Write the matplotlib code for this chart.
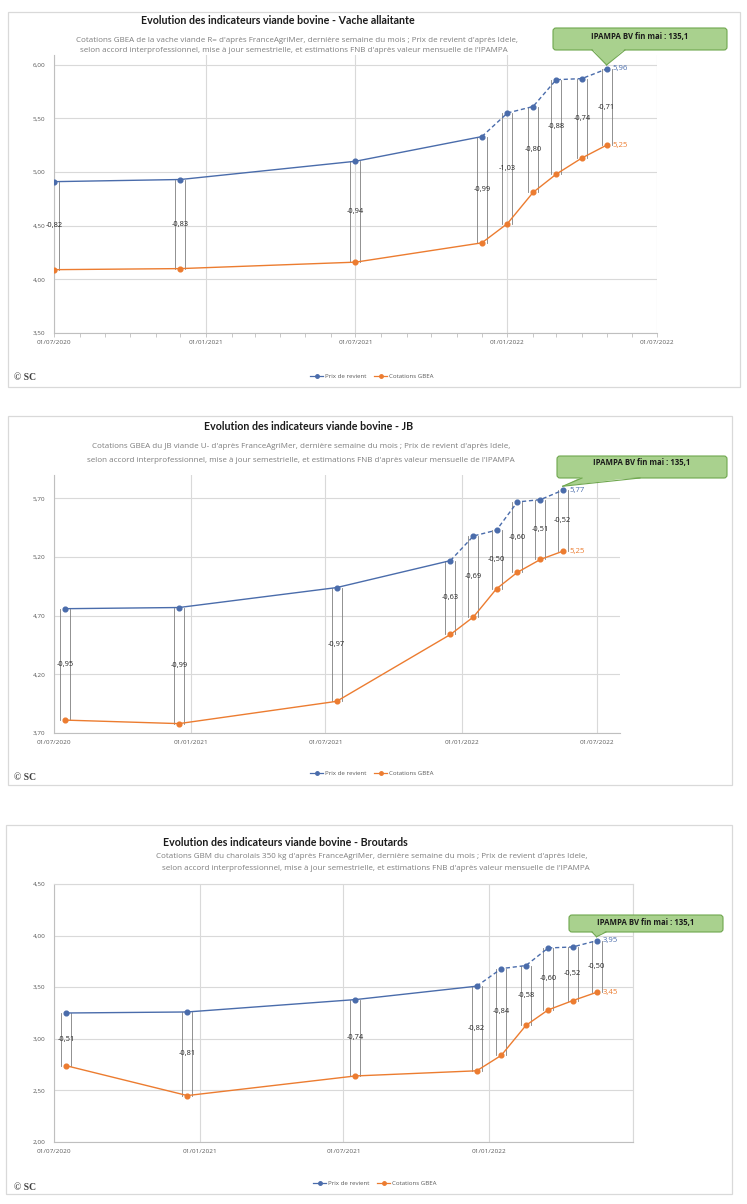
import datetime as dt
import numpy as np
import matplotlib
matplotlib.use("Agg")
import matplotlib.pyplot as plt
import matplotlib.dates as mdates
import matplotlib.transforms as mtrans
from matplotlib.patches import FancyBboxPatch, Polygon, Rectangle
from matplotlib.lines import Line2D
from matplotlib.ticker import FuncFormatter

# ---------------- data ----------------
va_dates = ["2020-07-01", "2020-12-01", "2021-07-01", "2021-12-01", "2022-01-01",
            "2022-02-01", "2022-03-01", "2022-04-01", "2022-05-01"]
va_prix = [4.91, 4.93, 5.10, 5.33, 5.55, 5.61, 5.86, 5.87, 5.96]
va_gbea = [4.09, 4.10, 4.16, 4.34, 4.52, 4.81, 4.98, 5.13, 5.25]

jb_dates = ["2020-07-16", "2020-12-16", "2021-07-16", "2021-12-16", "2022-01-16",
            "2022-02-16", "2022-03-16", "2022-04-16", "2022-05-16"]
jb_prix = [4.76, 4.77, 4.94, 5.17, 5.38, 5.43, 5.67, 5.69, 5.77]
jb_gbea = [3.81, 3.78, 3.97, 4.54, 4.69, 4.93, 5.07, 5.18, 5.25]

br_dates = ["2020-07-16", "2020-12-16", "2021-07-16", "2021-12-16", "2022-01-16",
            "2022-02-16", "2022-03-16", "2022-04-16", "2022-05-16"]
br_prix = [3.25, 3.26, 3.38, 3.51, 3.68, 3.71, 3.88, 3.89, 3.95]
br_gbea = [2.74, 2.45, 2.64, 2.69, 2.84, 3.13, 3.28, 3.37, 3.45]

titles = ["Evolution des indicateurs viande bovine - Vache allaitante",
          "Evolution des indicateurs viande bovine - JB",
          "Evolution des indicateurs viande bovine - Broutards"]
subtitle1 = ["Cotations GBEA de la vache viande R= d'après FranceAgriMer, dernière semaine du mois ; Prix de revient d'après Idele,",
             "Cotations GBEA du JB viande U- d'après FranceAgriMer, dernière semaine du mois ; Prix de revient d'après Idele,",
             "Cotations GBM du charolais 350 kg d'après FranceAgriMer, dernière semaine du mois ; Prix de revient d'après Idele,"]
subtitle2 = "selon accord interprofessionnel, mise à jour semestrielle, et estimations FNB d'après valeur mensuelle de l'IPAMPA"
callout_text = "IPAMPA BV fin mai : 135,1"
legend_labels = ["Prix de revient", "Cotations GBEA"]
copyright_text = "© SC"

xtick_dates = [["2020-07-01", "2021-01-01", "2021-07-01", "2022-01-01", "2022-07-01"],
               ["2020-07-01", "2021-01-01", "2021-07-01", "2022-01-01", "2022-07-01"],
               ["2020-07-01", "2021-01-01", "2021-07-01", "2022-01-01", "2022-07-01"]]
xtick_shown = [[True, True, True, True, True],
               [True, True, True, True, True],
               [True, True, True, True, False]]
yticks = [[3.50, 4.00, 4.50, 5.00, 5.50, 6.00],
          [3.70, 4.20, 4.70, 5.20, 5.70],
          [2.00, 2.50, 3.00, 3.50, 4.00, 4.50]]

# ---------------- layout / style ----------------
W, H, DPI = 747, 1204, 100
BLUE = "#4a6cab"
ORANGE = "#ec7c30"
GRID = "#d9d9d9"
TXT = "#595959"

plt.rcParams["font.family"] = ["Open Sans", "DejaVu Sans"]

panels = [
    dict(dates=va_dates, prix=va_prix, gbea=va_gbea,
         frame=(8, 12, 740, 387), axes=(54, 55, 657, 333),
         xlim=("2020-07-01", "2022-07-01"), ylim=(3.50, 6.09), minor=True,
         title=(278, 20), sub=(297, 40, 294, 51), legend=(372, 376), copy=(14, 378),
         box=(553, 28, 727, 50), text_y=37, ptr=(592, 625), tip_off=4),
    dict(dates=jb_dates, prix=jb_prix, gbea=jb_gbea,
         frame=(8, 416, 732, 785), axes=(54, 475, 620, 733),
         xlim=("2020-07-01", "2022-08-01"), ylim=(3.70, 5.90), minor=False,
         title=(309, 426), sub=(301, 447, 301, 460), legend=(372, 773), copy=(14, 778),
         box=(557, 456, 727, 478), text_y=463, ptr=(582, 640), tip_off=4),
    dict(dates=br_dates, prix=br_prix, gbea=br_gbea,
         frame=(6, 825, 732, 1194), axes=(54, 884, 633, 1142),
         xlim=("2020-07-01", "2022-07-01"), ylim=(2.00, 4.50), minor=False,
         title=(285, 842), sub=(372, 857, 376, 869), legend=(375, 1183), copy=(14, 1187),
         box=(569, 915, 723, 932), text_y=922, ptr=(592, 606), tip_off=4),
]


def rect(x0, y0, x1, y1):
    return [x0 / W, 1 - y1 / H, (x1 - x0) / W, (y1 - y0) / H]


def d2n(s):
    return mdates.date2num(dt.date.fromisoformat(s))


def comma(v):
    return f"{v:.2f}".replace(".", ",")


fig = plt.figure(figsize=(W / DPI, H / DPI), dpi=DPI)
fig.patch.set_facecolor("white")

bg = fig.add_axes([0, 0, 1, 1], zorder=0)
bg.set_xlim(0, W)
bg.set_ylim(H, 0)
bg.axis("off")

fg = fig.add_axes([0, 0, 1, 1], zorder=10)
fg.set_xlim(0, W)
fg.set_ylim(H, 0)
fg.axis("off")
fg.patch.set_alpha(0)

for i, p in enumerate(panels):
    fx0, fy0, fx1, fy1 = p["frame"]
    bg.add_patch(Rectangle((fx0, fy0), fx1 - fx0, fy1 - fy0, fc="white", ec=GRID, lw=0.9))

    ax = fig.add_axes(rect(*p["axes"]), zorder=5)
    ax.patch.set_alpha(0)
    x = [d2n(s) for s in p["dates"]]
    prix = np.array(p["prix"])
    gbea = np.array(p["gbea"])

    ax.set_xlim(d2n(p["xlim"][0]), d2n(p["xlim"][1]))
    ax.set_ylim(*p["ylim"])
    ax.set_yticks(yticks[i])
    ax.yaxis.set_major_formatter(FuncFormatter(lambda v, pos: comma(v)))
    tx = [d2n(s) for s in xtick_dates[i]]
    ax.set_xticks(tx)
    ax.set_xticklabels([dt.date.fromisoformat(s).strftime("%d/%m/%Y") if show else ""
                        for s, show in zip(xtick_dates[i], xtick_shown[i])])
    if p["minor"]:
        ax.xaxis.set_minor_locator(mdates.MonthLocator())
        ax.tick_params(axis="x", which="both", length=3, width=0.6, color="#bfbfbf", pad=2)
    else:
        ax.tick_params(axis="x", which="both", length=0, pad=5)
    ax.tick_params(axis="y", length=0, pad=6)
    ax.tick_params(labelsize=4.6, labelcolor=TXT)
    ax.grid(True, color=GRID, lw=0.8)
    ax.set_axisbelow(True)
    for s in ["top", "right"]:
        ax.spines[s].set_visible(False)
    for s in ["left", "bottom"]:
        ax.spines[s].set_color("#bfbfbf")
        ax.spines[s].set_linewidth(0.8)
    if i == 2:
        ax.spines["top"].set_visible(True)
        ax.spines["top"].set_color(GRID)
        ax.spines["right"].set_visible(True)
        ax.spines["right"].set_color(GRID)

    # difference lines
    for xi, pv, gv in zip(x, prix, gbea):
        for sgn in (-1, 1):
            tr = mtrans.offset_copy(ax.transData, fig=fig, x=sgn * 5 * 72 / DPI, y=0, units="points")
            ax.plot([xi, xi], [gv, pv], transform=tr, color="#7f7f7f", lw=0.6, zorder=2)
        ax.text(xi, (pv + gv) / 2, comma(gv - pv), ha="center", va="center",
                fontsize=5.4, color="#262626", zorder=4)

    # series
    ax.plot(x[:4], prix[:4], color=BLUE, lw=1.0, zorder=3)
    ax.plot(x[3:], prix[3:], color=BLUE, lw=1.0, ls=(0, (3, 2)), zorder=3)
    ax.plot(x, prix, ls="none", marker="o", ms=3.4, color=BLUE, zorder=4)
    ax.plot(x, gbea, color=ORANGE, lw=1.0, marker="o", ms=3.4, zorder=3)

    ax.annotate(comma(prix[-1]), (x[-1], prix[-1]), xytext=(4.5, 0), textcoords="offset points",
                va="center", ha="left", fontsize=5.6, color=BLUE)
    ax.annotate(comma(gbea[-1]), (x[-1], gbea[-1]), xytext=(4.5, 0), textcoords="offset points",
                va="center", ha="left", fontsize=5.6, color=ORANGE)

    # titles
    tx0, ty0 = p["title"]
    fg.text(tx0, ty0, titles[i], ha="center", va="center", fontsize=7.7, fontweight="bold",
            color="#1a1a1a", family=["Lato", "DejaVu Sans"])
    s1x, s1y, s2x, s2y = p["sub"]
    fg.text(s1x, s1y, subtitle1[i], ha="center", va="center", fontsize=5.8, color="#7f7f7f")
    fg.text(s2x, s2y, subtitle2, ha="center", va="center", fontsize=5.8, color="#7f7f7f")

    # legend
    handles = [Line2D([0], [0], color=BLUE, marker="o", ms=2.5, lw=0.9),
               Line2D([0], [0], color=ORANGE, marker="o", ms=2.5, lw=0.9)]
    lx, ly = p["legend"]
    leg = fig.legend(handles, legend_labels, loc="center", bbox_to_anchor=(lx / W, 1 - ly / H),
                     ncol=2, frameon=False, fontsize=4.4, handlelength=2.0, columnspacing=1.3,
                     handletextpad=0.4, borderpad=0)
    for t in leg.get_texts():
        t.set_color(TXT)

    cx, cy = p["copy"]
    fg.text(cx, cy, copyright_text, ha="left", va="center", fontsize=7, fontweight="bold",
            color="#404040", family=["Liberation Serif", "DejaVu Serif"])

    # callout
    bx0, by0, bx1, by1 = p["box"]
    tip_disp = ax.transData.transform((x[-1], prix[-1]))
    tip = (tip_disp[0], H - tip_disp[1] - p["tip_off"])
    pa, pb = p["ptr"]
    fg.add_patch(FancyBboxPatch((bx0, by0), bx1 - bx0, by1 - by0,
                                boxstyle="round,pad=0,rounding_size=3",
                                fc="#a9d18e", ec="#6fa74e", lw=0.8, zorder=1))
    fg.add_patch(Polygon([(pa, by1 - 1.2), (pb, by1 - 1.2), tip], closed=True,
                         fc="#a9d18e", ec="none", zorder=2))
    fg.plot([pa, tip[0]], [by1, tip[1]], color="#6fa74e", lw=0.8, zorder=3)
    fg.plot([pb, tip[0]], [by1, tip[1]], color="#6fa74e", lw=0.8, zorder=3)
    fg.text((bx0 + bx1) / 2, p["text_y"], callout_text, ha="center", va="center",
            fontsize=5.6, fontweight="bold", color="#1a1a1a", zorder=4)

fig.savefig("out.png", dpi=DPI, facecolor="white")
